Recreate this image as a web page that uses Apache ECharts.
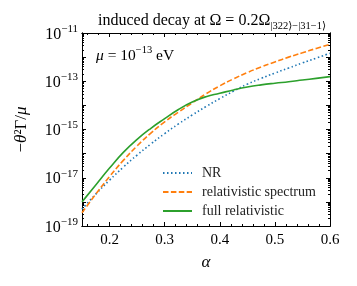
<!DOCTYPE html>
<html><head><meta charset="utf-8">
<script src="https://cdn.jsdelivr.net/npm/echarts@6/dist/echarts.min.js"></script>
<style>html,body{margin:0;padding:0;background:#fff}#c{width:357px;height:286px}</style>
</head><body><div id="c"></div>
<script>
// alpha grid
const alpha = [0.15,0.175,0.2,0.225,0.25,0.275,0.3,0.325,0.35,0.375,0.4,0.425,0.45,0.475,0.5,0.525,0.55,0.575,0.6];
// log10 of -theta^2 Gamma / mu
const nrLog10      = [-18.3,-17.68,-17.10,-16.56,-16.06,-15.60,-15.17,-14.77,-14.40,-14.05,-13.72,-13.41,-13.12,-12.88,-12.66,-12.45,-12.24,-12.04,-11.84];
const relSpecLog10 = [-18.45,-17.68,-16.95,-16.28,-15.68,-15.15,-14.68,-14.28,-13.90,-13.52,-13.19,-12.90,-12.64,-12.41,-12.20,-12.00,-11.82,-11.64,-11.47];
const fullRelLog10 = [-18.0,-17.3,-16.6,-15.95,-15.41,-14.95,-14.55,-14.17,-13.86,-13.64,-13.50,-13.36,-13.24,-13.15,-13.08,-13.02,-12.95,-12.88,-12.81];
const seriesNames = ['NR','relativistic spectrum','full relativistic'];
const xTicks = [0.2,0.3,0.4,0.5,0.6];
const xMinorTicks = [0.16,0.18,0.22,0.24,0.26,0.28,0.32,0.34,0.36,0.38,0.42,0.44,0.46,0.48,0.52,0.54,0.56,0.58];
const yLabelExps = [-19,-17,-15,-13,-11];

const yMinor = [];
for (let n = -19; n < -11; n++) for (let k = 2; k <= 9; k++) yMinor.push(n + Math.log10(k));

const serif = '"Liberation Serif","DejaVu Serif",serif';
const pair = ys => alpha.map((a,i)=>[a, ys[i]]);

const baseAxis = {
  axisLine:{show:true,onZero:false,lineStyle:{color:'#000',width:1}},
  splitLine:{show:false}
};
function xAx(pos, minor, showLabel){
  return Object.assign({}, baseAxis, {
    type:'value', min:0.15, max:0.6, position:pos, gridIndex:0,
    axisTick:{show:true, inside:true, length: minor?2:4, lineStyle:{color:'#000'}, customValues: minor?xMinorTicks:xTicks},
    axisLabel: showLabel ? {show:true, customValues:xTicks, fontFamily:serif, fontSize:15, color:'#000', margin:7, formatter:v=>String(+v.toFixed(2))} : {show:false},
    name: (showLabel ? 'α' : ''), nameLocation:'middle', nameGap:28,
    nameTextStyle:{fontFamily:serif, fontSize:17, fontStyle:'italic', color:'#000'}
  });
}
function yAx(pos, minor, showLabel){
  const ax = Object.assign({}, baseAxis, {
    type:'value', min:-19, max:-11, interval:1, position:pos, gridIndex:0,
    axisTick:{show:true, inside:true, length: minor?2:4, lineStyle:{color:'#000'}},
    axisLabel:{show:false}
  });
  if (minor) ax.axisTick.customValues = yMinor;
  if (showLabel) {
    ax.axisLabel = {show:true, customValues: yLabelExps, margin:4,
      formatter: v => '{b|10}{s|' + String(v).replace('-','−') + '}',
      rich:{ b:{fontFamily:serif,fontSize:16,color:'#000',lineHeight:19,verticalAlign:'bottom'},
             s:{fontFamily:serif,fontSize:11,color:'#000',lineHeight:12,verticalAlign:'top'} }};
    ax.name = '{n|−}{i|θ}{n|²Γ/}{i|μ}';
    ax.nameLocation = 'middle'; ax.nameGap = 52; ax.nameRotate = 90;
    ax.nameTextStyle = {rich:{ n:{fontFamily:serif,fontSize:17,color:'#000'}, i:{fontFamily:serif,fontSize:17,fontStyle:'italic',color:'#000'} }};
  }
  return ax;
}

const chart = echarts.init(document.getElementById('c'), null, {renderer:'canvas'});
chart.setOption({
  animation:false,
  backgroundColor:'#fff',
  grid:{left:82, right:27, top:33, bottom:60, containLabel:false},
  xAxis:[ xAx('bottom', false, true), xAx('bottom', true, false), xAx('top', false, false), xAx('top', true, false) ],
  yAxis:[ yAx('left', false, true), yAx('left', true, false), yAx('right', false, false), yAx('right', true, false) ],
  title:[
    {text:'{n|induced decay at }{i|Ω}{n| = 0.2}{i|Ω}{sub||322⟩−|31−1⟩}', left:207, top:8, textAlign:'center',
     textStyle:{fontWeight:'normal', rich:{ n:{fontFamily:serif,fontSize:16,fontWeight:'normal',color:'#000',lineHeight:19,verticalAlign:'top'},
                       i:{fontFamily:serif,fontSize:16,fontWeight:'normal',color:'#000',lineHeight:19,verticalAlign:'top'},
                       sub:{fontFamily:serif,fontSize:10.5,fontWeight:'normal',color:'#000',lineHeight:11,verticalAlign:'bottom'} }}},
    {text:'{i|μ}{n| = 10}{s|−13}{n| eV}', left:91, top:40,
     textStyle:{fontWeight:'normal', rich:{ n:{fontFamily:serif,fontSize:15.5,fontWeight:'normal',color:'#000',lineHeight:19,verticalAlign:'bottom'},
                       i:{fontFamily:serif,fontSize:15.5,fontStyle:'italic',fontWeight:'normal',color:'#000',lineHeight:19,verticalAlign:'bottom'},
                       s:{fontFamily:serif,fontSize:10.5,fontWeight:'normal',color:'#000',lineHeight:11,verticalAlign:'top'} }}}
  ],
  legend:{ orient:'vertical', left:157, top:161, itemWidth:29, itemHeight:14, itemGap:5,
    itemStyle:{opacity:0},
    textStyle:{fontFamily:serif, fontSize:14, lineHeight:14, color:'#222', padding:[0,0,0,5]},
    data: seriesNames },
  series:[
    {name:seriesNames[0], type:'line', xAxisIndex:0, yAxisIndex:0, smooth:true, showSymbol:false, symbol:'none',
     lineStyle:{color:'#1f77b4', width:1.6, type:[1.5,2.5]}, itemStyle:{color:'#1f77b4', opacity:0}, data:pair(nrLog10)},
    {name:seriesNames[1], type:'line', xAxisIndex:0, yAxisIndex:0, smooth:true, showSymbol:false, symbol:'none',
     lineStyle:{color:'#ff7f0e', width:1.6, type:[5.5,2.4]}, itemStyle:{color:'#ff7f0e', opacity:0}, data:pair(relSpecLog10)},
    {name:seriesNames[2], type:'line', xAxisIndex:0, yAxisIndex:0, smooth:true, showSymbol:false, symbol:'none',
     lineStyle:{color:'#2ca02c', width:1.6}, itemStyle:{color:'#2ca02c', opacity:0}, data:pair(fullRelLog10)}
  ]
});
</script></body></html>
